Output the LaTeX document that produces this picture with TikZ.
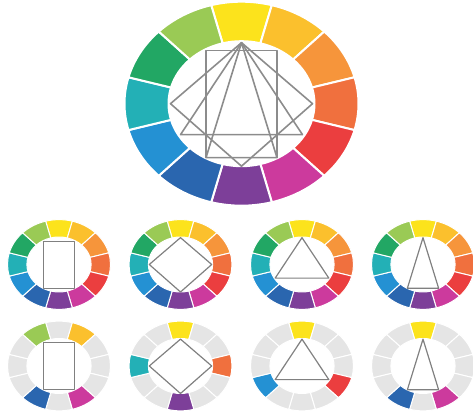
\documentclass[tikz,border=0pt]{standalone}
\usepackage{tikz}

\definecolor{cw0}{HTML}{FCE31C}
\definecolor{cw1}{HTML}{FBC02D}
\definecolor{cw2}{HTML}{F6953B}
\definecolor{cw3}{HTML}{F0703E}
\definecolor{cw4}{HTML}{EB3E3F}
\definecolor{cw5}{HTML}{CC3A9D}
\definecolor{cw6}{HTML}{7D3F99}
\definecolor{cw7}{HTML}{2A66AF}
\definecolor{cw8}{HTML}{2491D3}
\definecolor{cw9}{HTML}{23B0B6}
\definecolor{cw10}{HTML}{22A764}
\definecolor{cw11}{HTML}{9ACA55}
\definecolor{gr}{HTML}{E5E5E5}
\definecolor{geomgray}{HTML}{8C8C8C}

\tikzset{
    seg/.style={draw=white, line width=2pt},
    geom/.style={draw=geomgray, line width=1.6pt, line join=round},
}

% 色环: 12 个色块, 0 号在正上方, 顺时针
\newcommand{\colorwheel}[1]{%
    \foreach \c [count=\i from 0] in {#1} {
        \pgfmathsetmacro{\ang}{90-30*\i}
        \filldraw[seg, fill=\c] ({117*cos(\ang-15)},{102*sin(\ang-15)})
            arc[start angle=\ang-15, end angle=\ang+15, x radius=117, y radius=102]
            -- ({73*cos(\ang+15)},{62.5*sin(\ang+15)})
            arc[start angle=\ang+15, end angle=\ang-15, x radius=73, y radius=62.5]
            -- cycle;
    }
}

% 内部图形
\newcommand{\rectshape}{\draw[geom] (-35.5,-54) rectangle (35.5,53);}
\newcommand{\diamondshape}{\draw[geom] (0,61) -- (71,0) -- (0,-62.5) -- (-71,0) -- cycle;}
\newcommand{\triashape}{\draw[geom] (0,61) -- (61,-31) -- (-61,-31) -- cycle;}
\newcommand{\narrowshape}{\draw[geom] (0,61) -- (35.5,-54) -- (-35.5,-54) -- cycle;}

\begin{document}
\begin{tikzpicture}[scale=0.03514]

\useasboundingbox (0,0) rectangle (473,412);

% 大色环
\begin{scope}[local bounding box=big, shift={(241.5,308.3)}]
    \colorwheel{cw0,cw1,cw2,cw3,cw4,cw5,cw6,cw7,cw8,cw9,cw10,cw11}
    \rectshape
    \diamondshape
    \triashape
    \narrowshape
\end{scope}

% 第一行: 完整色环
\begin{scope}[local bounding box=rectfull, shift={(59,147.5)}, scale=0.44,
    seg/.append style={line width=1pt}, geom/.append style={line width=1.2pt, draw=gray}]
    \colorwheel{cw0,cw1,cw2,cw3,cw4,cw5,cw6,cw7,cw8,cw9,cw10,cw11}
    \rectshape
\end{scope}

\begin{scope}[local bounding box=squarefull, shift={(180.5,147.5)}, scale=0.44,
    seg/.append style={line width=1pt}, geom/.append style={line width=1.2pt, draw=gray}]
    \colorwheel{cw0,cw1,cw2,cw3,cw4,cw5,cw6,cw7,cw8,cw9,cw10,cw11}
    \diamondshape
\end{scope}

\begin{scope}[local bounding box=triadfull, shift={(302,147.5)}, scale=0.44,
    seg/.append style={line width=1pt}, geom/.append style={line width=1.2pt, draw=gray}]
    \colorwheel{cw0,cw1,cw2,cw3,cw4,cw5,cw6,cw7,cw8,cw9,cw10,cw11}
    \triashape
\end{scope}

\begin{scope}[local bounding box=splitfull, shift={(423,147.5)}, scale=0.44,
    seg/.append style={line width=1pt}, geom/.append style={line width=1.2pt, draw=gray}]
    \colorwheel{cw0,cw1,cw2,cw3,cw4,cw5,cw6,cw7,cw8,cw9,cw10,cw11}
    \narrowshape
\end{scope}

% 第二行: 只保留选中的颜色
\begin{scope}[local bounding box=rectpick, shift={(59,46)}, scale=0.44,
    seg/.append style={line width=1pt}, geom/.append style={line width=1.2pt, draw=gray}]
    \colorwheel{gr,cw1,gr,gr,gr,cw5,gr,cw7,gr,gr,gr,cw11}
    \rectshape
\end{scope}

\begin{scope}[local bounding box=squarepick, shift={(180.5,46)}, scale=0.44,
    seg/.append style={line width=1pt}, geom/.append style={line width=1.2pt, draw=gray}]
    \colorwheel{cw0,gr,gr,cw3,gr,gr,cw6,gr,gr,cw9,gr,gr}
    \diamondshape
\end{scope}

\begin{scope}[local bounding box=triadpick, shift={(302,46)}, scale=0.44,
    seg/.append style={line width=1pt}, geom/.append style={line width=1.2pt, draw=gray}]
    \colorwheel{cw0,gr,gr,gr,cw4,gr,gr,gr,cw8,gr,gr,gr}
    \triashape
\end{scope}

\begin{scope}[local bounding box=splitpick, shift={(423,46)}, scale=0.44,
    seg/.append style={line width=1pt}, geom/.append style={line width=1.2pt, draw=gray}]
    \colorwheel{cw0,gr,gr,gr,gr,cw5,gr,cw7,gr,gr,gr,gr}
    \narrowshape
\end{scope}

\end{tikzpicture}
\end{document}
